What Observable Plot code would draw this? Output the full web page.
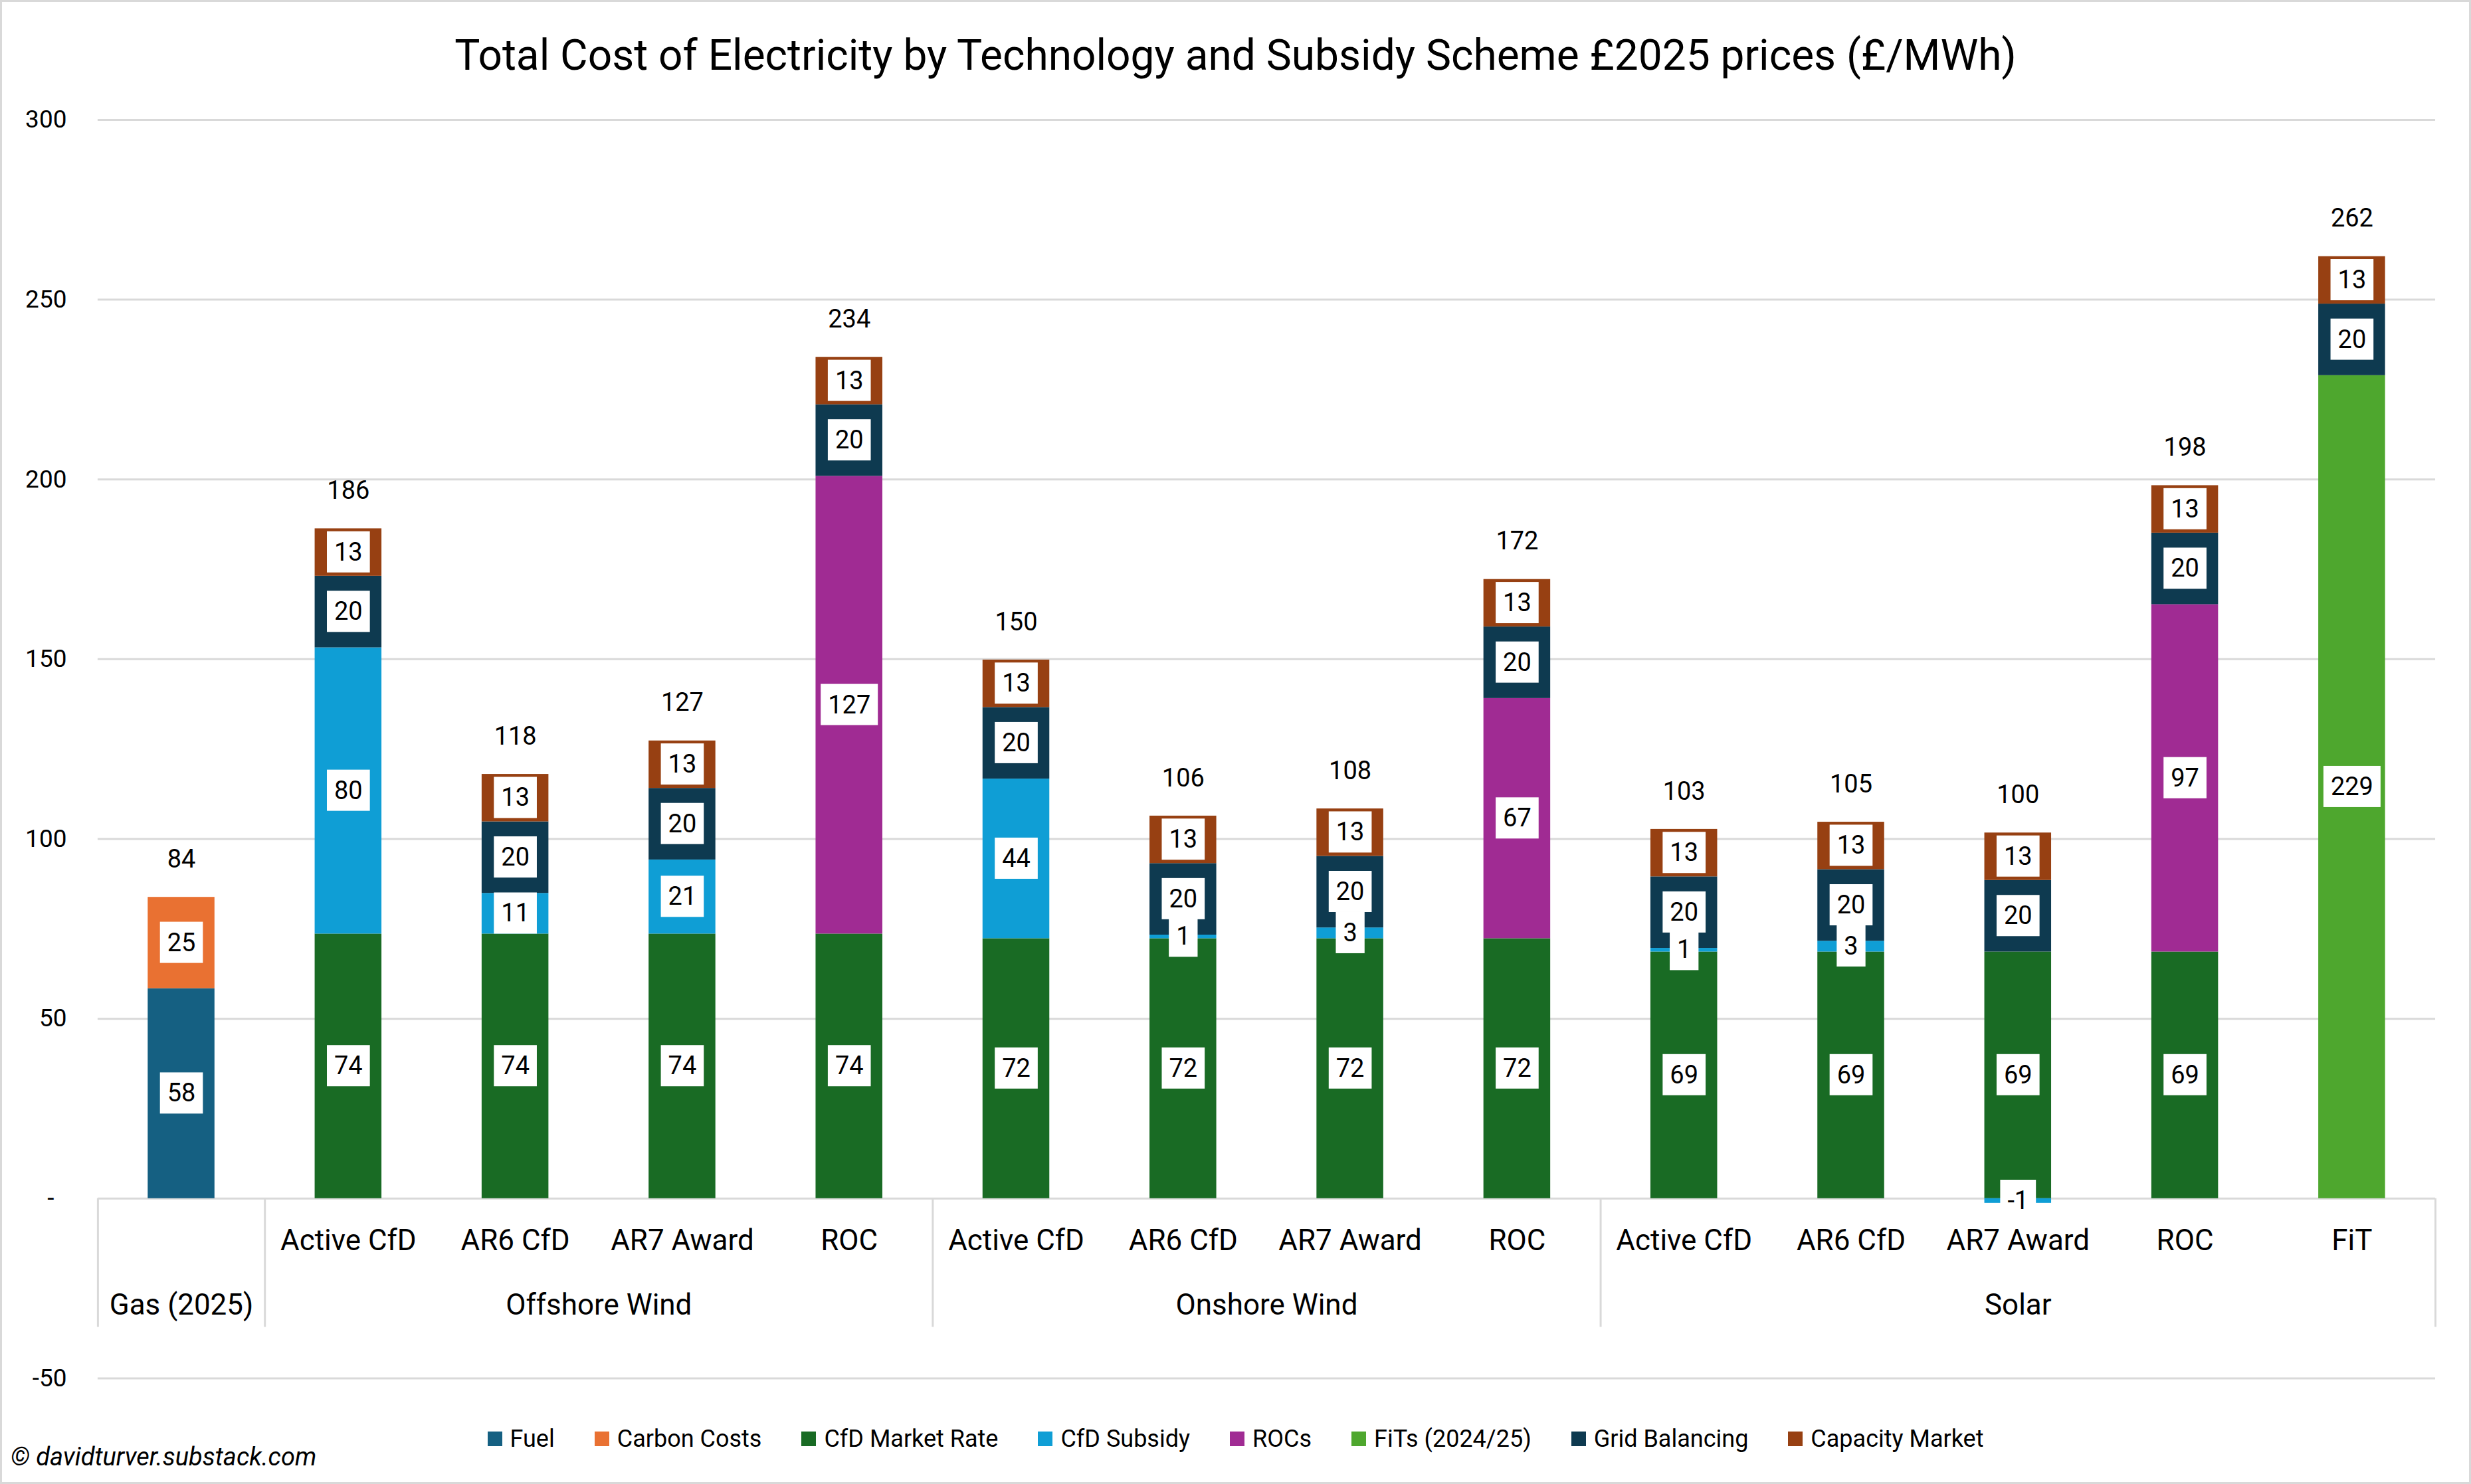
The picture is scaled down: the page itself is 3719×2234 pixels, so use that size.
<!DOCTYPE html>
<html><head><meta charset="utf-8">
<script src="https://cdn.jsdelivr.net/npm/d3@7"></script>
<script src="https://cdn.jsdelivr.net/npm/@observablehq/plot@0.6"></script>
<style>
html,body{margin:0;padding:0;background:#fff;}
#wrap{position:relative;width:3719px;height:2234px;box-sizing:border-box;border:3px solid #d9d9d9;overflow:hidden;font-family:Roboto,sans-serif;color:#000;background:#fff;}
#title{position:absolute;left:-3px;width:3719px;top:49px;text-align:center;font-size:64px;line-height:64px;white-space:nowrap;}
#chart{position:absolute;left:-3px;top:127px;}
#legend{position:absolute;left:-3px;width:3719px;top:2143px;display:flex;justify-content:center;align-items:center;gap:60px;font-size:36px;line-height:40px;}
.item{display:flex;align-items:center;gap:12px;}
.sw{width:22px;height:22px;display:inline-block;}
#caption{position:absolute;left:13px;top:2170px;font-size:38px;line-height:40px;font-style:italic;}
</style>
</head><body>
<div id="wrap">
  <div id="title">Total Cost of Electricity by Technology and Subsidy Scheme £2025 prices (£/MWh)</div>
  <div id="chart"></div>
  <div id="legend"></div>
  <div id="caption">© davidturver.substack.com</div>
</div>
<script>
const seriesNames = ["Fuel","Carbon Costs","CfD Market Rate","CfD Subsidy","ROCs","FiTs (2024/25)","Grid Balancing","Capacity Market"];
const seriesColors = ["#156082","#E97132","#196B24","#0F9ED5","#A02B93","#4EA72E","#0E3A50","#974012"];

const categories = ["","Active CfD","AR6 CfD","AR7 Award","ROC","Active CfD","AR6 CfD","AR7 Award","ROC","Active CfD","AR6 CfD","AR7 Award","ROC","FiT"];
const groups = ["Gas (2025)","Offshore Wind","Offshore Wind","Offshore Wind","Offshore Wind","Onshore Wind","Onshore Wind","Onshore Wind","Onshore Wind","Solar","Solar","Solar","Solar","Solar"];

const fuel           = [58.4, null, null, null, null, null, null, null, null, null, null, null, null, null];
const carbonCosts    = [25.4, null, null, null, null, null, null, null, null, null, null, null, null, null];
const cfdMarketRate  = [null, 73.6, 73.6, 73.6, 73.6, 72.3, 72.3, 72.3, 72.3, 68.6, 68.6, 68.6, 68.6, null];
const cfdSubsidy     = [null, 79.6, 11.3, 20.6, null, 44.4, 1.0, 3.0, null, 1.0, 3.0, -1.3, null, null];
const rocs           = [null, null, null, null, 127.3, null, null, null, 66.8, null, null, null, 96.6, null];
const fits           = [null, null, null, null, null, null, null, null, null, null, null, null, null, 228.9];
const gridBalancing  = [null, 19.9, 19.9, 19.9, 19.9, 19.9, 19.9, 19.9, 19.9, 19.9, 19.9, 19.9, 19.9, 19.9];
const capacityMarket = [null, 13.2, 13.2, 13.2, 13.2, 13.2, 13.2, 13.2, 13.2, 13.2, 13.2, 13.2, 13.2, 13.2];

const yTicks = [-50, 0, 50, 100, 150, 200, 250, 300];

const seriesValues = [fuel, carbonCosts, cfdMarketRate, cfdSubsidy, rocs, fits, gridBalancing, capacityMarket];

const rows = [];
categories.forEach((c, i) => seriesNames.forEach((s, j) => {
  const v = seriesValues[j][i];
  if (v != null) rows.push({idx: i, series: s, value: v});
}));
const totals = categories.map((c, i) => ({
  idx: i,
  top: d3.sum(seriesValues, a => Math.max(0, a[i] ?? 0)),
  net: d3.sum(seriesValues, a => a[i] ?? 0)
}));
const catRows = categories.map((c, i) => ({idx: i, label: c}));
const spans = [];
groups.forEach((g, i) => {
  const last = spans[spans.length - 1];
  if (last && last.name === g) last.end = i; else spans.push({name: g, start: i, end: i});
});
const boundaries = [spans[0].start - 0.5, ...spans.map(s => s.end + 0.5)];
const fmt = v => String(Math.round(v));

const chart = Plot.plot({
  width: 3719,
  height: 2000,
  marginLeft: 147,
  marginRight: 51,
  marginTop: 50,
  marginBottom: 54,
  style: {fontFamily: "Roboto, sans-serif", color: "#000", background: "transparent", overflow: "visible"},
  x: {domain: [-0.5, categories.length - 0.5], axis: null},
  y: {domain: [-50, 300], label: null},
  color: {domain: seriesNames, range: seriesColors},
  marks: [
    Plot.ruleY(yTicks, {y: d => d, stroke: "#d9d9d9", strokeWidth: 3}),
    Plot.ruleX(boundaries, {x: d => d, y1: 0, y2: -50, insetBottom: 77, stroke: "#d9d9d9", strokeWidth: 3}),
    Plot.rectY(rows, {x1: d => d.idx - 0.2, x2: d => d.idx + 0.2, y: "value", fill: "series"}),
    Plot.text(rows, Plot.stackY({x: "idx", y: "value", text: d => fmt(d.value), fontSize: 38, fontWeight: "400", fill: "#000", className: "seglabel"})),
    Plot.text(totals, {x: "idx", y: "top", text: d => fmt(d.net), dy: -57, fontSize: 38, fill: "#000"}),
    Plot.text(catRows, {x: "idx", y: 0, text: "label", dy: 64, fontSize: 44, fill: "#000"}),
    Plot.text(spans, {x: d => (d.start + d.end) / 2, y: 0, text: "name", dy: 161, fontSize: 44, fill: "#000"}),
    Plot.axisY(yTicks, {tickSize: 0, tickPadding: 47, fontSize: 37, label: null, tickFormat: d => d === 0 ? "-\u2002" : String(d)})
  ]
});
document.getElementById("chart").append(chart);

const segTexts = new Set([
  ...chart.querySelectorAll('g.seglabel text'),
  ...chart.querySelectorAll('g[font-weight="400"] text')
]);
segTexts.forEach(t => {
  const bb = t.getBBox();
  const r = document.createElementNS("http://www.w3.org/2000/svg", "rect");
  r.setAttribute("x", bb.x - 11);
  r.setAttribute("y", bb.y - 9);
  r.setAttribute("width", bb.width + 22);
  r.setAttribute("height", bb.height + 18);
  r.setAttribute("fill", "#fff");
  const tr = t.getAttribute("transform");
  if (tr) r.setAttribute("transform", tr);
  t.parentNode.insertBefore(r, t);
});

const legend = d3.select("#legend");
seriesNames.forEach((s, i) => {
  const it = legend.append("div").attr("class", "item");
  it.append("span").attr("class", "sw").style("background", seriesColors[i]);
  it.append("span").text(s);
});
</script>
</body></html>
